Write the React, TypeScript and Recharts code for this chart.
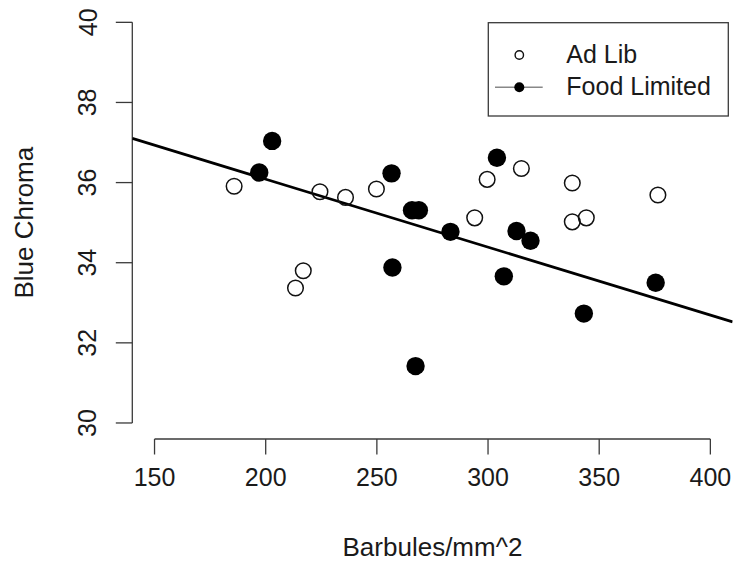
import React from "react";
import {
  ScatterChart,
  Scatter,
  XAxis,
  YAxis,
  ReferenceLine,
  Customized,
  Label,
} from "recharts";

// Ad Lib (open circles)
const adLibX = [185.8, 224.4, 235.9, 249.8, 216.9, 213.4, 315.0, 299.6, 337.9, 376.4, 294.0, 337.9, 344.2];
const adLibY = [35.91, 35.77, 35.63, 35.84, 33.80, 33.37, 36.35, 36.08, 35.99, 35.69, 35.12, 35.02, 35.12];

// Food Limited (filled circles)
const foodX = [202.9, 197.1, 256.6, 304.0, 265.8, 268.9, 283.1, 312.8, 319.1, 257.0, 307.1, 375.4, 343.1, 267.4];
const foodY = [37.04, 36.25, 36.23, 36.62, 35.31, 35.31, 34.77, 34.79, 34.55, 33.88, 33.66, 33.50, 32.73, 31.42];

const xTicks = [150, 200, 250, 300, 350, 400];
const yTicks = [30, 32, 34, 36, 38, 40];
const xDomain = [140, 410];
const yDomain = [29.6, 40.4];
const legendLabels = ["Ad Lib", "Food Limited"];

// fitted regression line
const fitIntercept = 39.479;
const fitSlope = -0.01697;

const adLibData = adLibX.map((x, i) => ({ x, y: adLibY[i] }));
const foodData = foodX.map((x, i) => ({ x, y: foodY[i] }));

const FONT = "'Liberation Sans', Arial, Helvetica, sans-serif";
const TEXT = "#1a1a1a";
const AXIS = "#3a3a3a";

const OpenDot = (p: any) => (
  <circle cx={p.cx} cy={p.cy} r={7.8} fill="none" stroke="#111" strokeWidth={1.5} />
);
const FilledDot = (p: any) => <circle cx={p.cx} cy={p.cy} r={9.2} fill="#000" />;

const XTick = (p: any) => (
  <text x={p.x} y={p.y + 29} textAnchor="middle" fontSize={25} fontFamily={FONT} fill={TEXT}>
    {p.payload.value}
  </text>
);
const YTick = (p: any) => (
  <text
    x={96.5}
    y={p.y}
    textAnchor="middle"
    fontSize={25}
    fontFamily={FONT}
    fill={TEXT}
    transform={`rotate(-90, 96.5, ${p.y})`}
  >
    {p.payload.value}
  </text>
);

const LegendBox = () => (
  <g transform="translate(487.3, 21.7)">
    <rect x={1} y={1} width={240} height={93.3} fill="#fff" stroke={AXIS} strokeWidth={1.3} />
    <circle cx={32} cy={33.3} r={4.2} fill="none" stroke="#111" strokeWidth={1.4} />
    <text x={79} y={41.6} fontSize={25} fontFamily={FONT} fill={TEXT}>{legendLabels[0]}</text>
    <line x1={7.7} x2={55.4} y1={65.6} y2={65.6} stroke="#888" strokeWidth={1.4} />
    <circle cx={32} cy={65.6} r={5} fill="#000" />
    <text x={79} y={73.3} fontSize={25} fontFamily={FONT} fill={TEXT}>{legendLabels[1]}</text>
  </g>
);

export default function App() {
  const lineSeg = [
    { x: xDomain[0], y: fitIntercept + fitSlope * xDomain[0] },
    { x: xDomain[1], y: fitIntercept + fitSlope * xDomain[1] },
  ];
  return (
    <div style={{ position: "absolute", left: 0, top: 0, width: 734, height: 562, background: "#fff" }}>
      <ScatterChart width={734} height={562} margin={{ top: 6.3, right: 1.4, left: 0, bottom: 0 }}>
        <XAxis
          type="number"
          dataKey="x"
          domain={xDomain}
          ticks={xTicks}
          allowDataOverflow
          axisLine={false}
          tickLine={{ stroke: AXIS, strokeWidth: 1.3 }}
          tickSize={15.5}
          height={123}
          tick={<XTick />}
          interval={0}
        >
          <Label
            content={(props: any) => {
              const vb = props.viewBox;
              return (
                <text
                  x={vb.x + vb.width / 2}
                  y={vb.y + 116.5}
                  textAnchor="middle"
                  fontSize={26}
                  fontFamily={FONT}
                  fill={TEXT}
                >
                  Barbules/mm^2
                </text>
              );
            }}
          />
        </XAxis>
        <YAxis
          type="number"
          dataKey="y"
          domain={yDomain}
          ticks={yTicks}
          allowDataOverflow
          axisLine={false}
          tickLine={{ stroke: AXIS, strokeWidth: 1.3 }}
          tickSize={16.5}
          width={132.3}
          tick={<YTick />}
          interval={0}
        >
          <Label
            content={(props: any) => {
              const vb = props.viewBox;
              const cy = vb.y + vb.height / 2;
              return (
                <text
                  x={33.3}
                  y={cy}
                  textAnchor="middle"
                  fontSize={26}
                  fontFamily={FONT}
                  fill={TEXT}
                  transform={`rotate(-90, 33.3, ${cy})`}
                >
                  Blue Chroma
                </text>
              );
            }}
          />
        </YAxis>
        <ReferenceLine
          segment={[{ x: xTicks[0], y: yDomain[0] }, { x: xTicks[xTicks.length - 1], y: yDomain[0] }]}
          stroke={AXIS}
          strokeWidth={1.3}
          ifOverflow="visible"
        />
        <ReferenceLine
          segment={[{ x: xDomain[0], y: yTicks[0] }, { x: xDomain[0], y: yTicks[yTicks.length - 1] }]}
          stroke={AXIS}
          strokeWidth={1.3}
          ifOverflow="visible"
        />
        <ReferenceLine segment={lineSeg} stroke="#000" strokeWidth={2.8} ifOverflow="hidden" />
        <Scatter name="Ad Lib" data={adLibData} shape={<OpenDot />} isAnimationActive={false} />
        <Scatter name="Food Limited" data={foodData} shape={<FilledDot />} isAnimationActive={false} />
        <Customized component={<LegendBox />} />
      </ScatterChart>
    </div>
  );
}
